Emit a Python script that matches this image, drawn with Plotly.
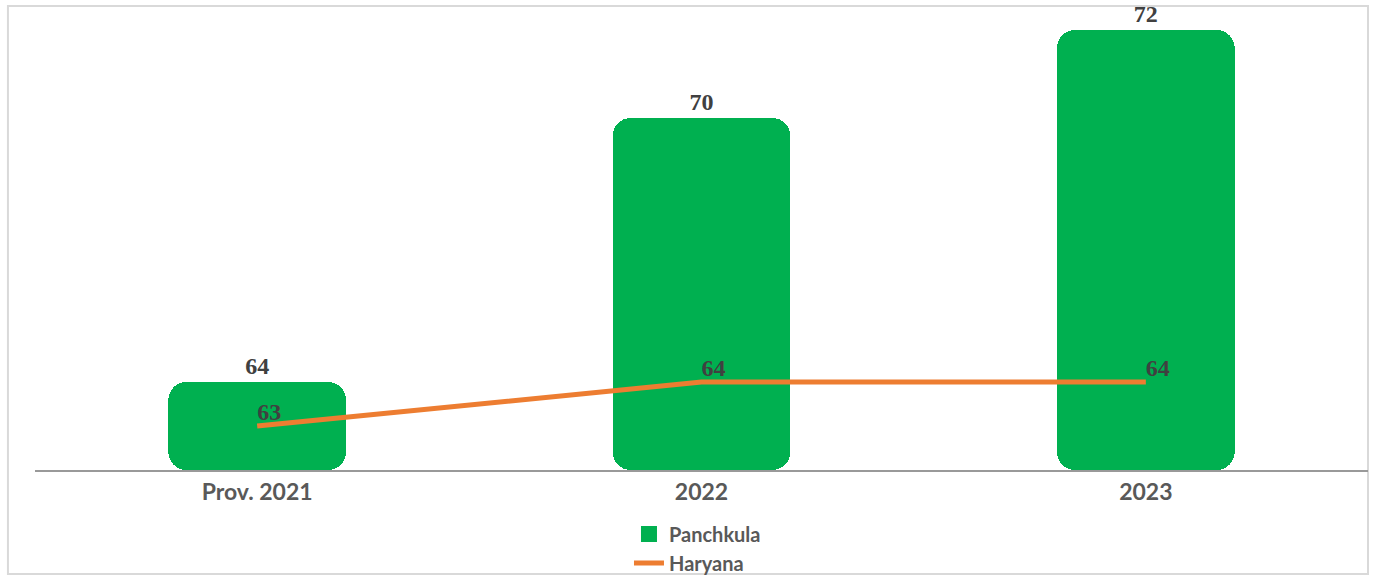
import plotly.graph_objects as go

categories = ["Prov. 2021", "2022", "2023"]
panchkula = [64, 70, 72]
haryana = [63, 64, 64]
base_value = 62

GREEN = "#00B050"
ORANGE = "#ED7D31"

heights = [v - base_value for v in panchkula]

fig = go.Figure()

fig.add_trace(go.Bar(
    x=categories, y=heights, base=base_value, width=0.40,
    marker=dict(color=GREEN, line=dict(width=0), cornerradius=18),
    text=[str(v) for v in panchkula], textposition="outside",
    textfont=dict(family="Liberation Serif", size=24, color="#404040", weight="bold"),
    cliponaxis=False, showlegend=False, hoverinfo="skip",
))
# legend entry for bars
fig.add_trace(go.Scatter(
    x=[None], y=[None], mode="markers", name="Panchkula",
    marker=dict(symbol="square", size=16, color=GREEN),
))
fig.add_trace(go.Scatter(
    x=categories, y=haryana, mode="lines+text", name="Haryana",
    line=dict(color=ORANGE, width=5),
    text=[str(v) for v in haryana], textposition="top right",
    textfont=dict(family="Liberation Serif", size=24, color="#404040", weight="bold"),
    cliponaxis=False,
))

fig.update_layout(
    width=1374, height=575,
    margin=dict(l=35, r=6, t=8, b=105, autoexpand=False),
    paper_bgcolor="white", plot_bgcolor="white",
    barmode="overlay", bargap=0,
    xaxis=dict(
        showgrid=False, showline=True, linecolor="#999999", linewidth=2,
        ticks="", tickfont=dict(family="Lato", size=23, color="#595959", weight="bold"),
        fixedrange=True,
    ),
    yaxis=dict(range=[base_value, 72.5], visible=False, showgrid=False, zeroline=False),
    legend=dict(
        orientation="v", x=0.4456, xanchor="left",
        y=-0.0963, yanchor="top",
        font=dict(family="Lato", size=20, color="#595959", weight="bold"),
        tracegroupgap=0, itemwidth=30, bgcolor="rgba(0,0,0,0)",
    ),
    showlegend=True,
    shapes=[dict(
        type="rect", xref="paper", yref="paper",
        x0=-0.0203, x1=1.0, y0=-0.225, y1=1.0045,
        line=dict(color="#D9D9D9", width=2), layer="below",
    )],
)

fig.write_html(
    "out.html",
    config={"displayModeBar": False, "staticPlot": True},
    post_script="document.body.style.margin='0px';document.body.style.overflow='hidden';",
)
